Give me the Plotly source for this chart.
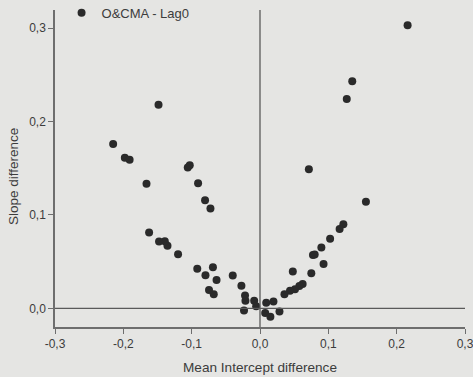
import plotly.graph_objects as go

# Mean intercept difference vs slope difference, O&CMA - Lag0
mean_intercept_diff = [
    0.216, 0.135, 0.127, 0.0715, 0.155, 0.122, 0.1165, 0.1026, 0.0898, 0.0775,
    0.080, 0.093, 0.0751, 0.048, 0.0624, 0.0576, 0.0512, 0.0439, 0.0358, 0.0091,
    0.0197, -0.0085, -0.0056, -0.0234, 0.0076, 0.0152, 0.0285, -0.0213, -0.0219, -0.0272,
    -0.0399, -0.0677, -0.0746, -0.0636, -0.0689, -0.0798, -0.0918, -0.1199, -0.1354, -0.1393,
    -0.1477, -0.1623, -0.0725, -0.0804, -0.0906, -0.1661, -0.1057, -0.1028, -0.1978, -0.1908,
    -0.2149, -0.1485,
]
slope_diff = [
    0.303, 0.243, 0.224, 0.149, 0.114, 0.090, 0.085, 0.0745, 0.065, 0.057,
    0.0575, 0.0474, 0.0376, 0.0394, 0.026, 0.0239, 0.0203, 0.0188, 0.0151, 0.006,
    0.0073, 0.008, 0.0021, -0.0024, -0.005, -0.009, -0.0034, 0.0081, 0.0137, 0.0241,
    0.0351, 0.015, 0.0196, 0.0303, 0.044, 0.0354, 0.0423, 0.0578, 0.067, 0.0718,
    0.0715, 0.0812, 0.107, 0.1156, 0.1338, 0.1334, 0.1507, 0.1531, 0.1611, 0.159,
    0.1759, 0.218,
]

x_tick_vals = [-0.3, -0.2, -0.1, 0.0, 0.1, 0.2, 0.3]
x_tick_text = ["-0,3", "-0,2", "-0,1", "0,0", "0,1", "0,2", "0,3"]
y_tick_vals = [0.0, 0.1, 0.2, 0.3]
y_tick_text = ["0,0", "0,1", "0,2", "0,3"]

paper_bg = "#e5e5e3"
ink = "#3c3c3c"
axis_grey = "#6e6e6e"
font_family = "Liberation Sans, Arial, sans-serif"

fig = go.Figure()
fig.add_trace(go.Scatter(
    x=mean_intercept_diff,
    y=slope_diff,
    mode="markers",
    name="O&CMA - Lag0",
    marker=dict(size=8, color="#2a2a2a"),
))

# reference lines at zero on both axes
fig.add_shape(type="line", xref="x", yref="paper", x0=0, x1=0, y0=0, y1=1,
              line=dict(color="#5a5a5a", width=1.3))
fig.add_shape(type="line", xref="paper", yref="y", x0=0, x1=1, y0=0, y1=0,
              line=dict(color="#5a5a5a", width=1.3))

fig.add_annotation(
    text="Slope difference", xref="paper", yref="paper",
    x=-0.101, y=0.475, xanchor="center", yanchor="middle",
    textangle=-90, showarrow=False,
    font=dict(size=13.5, color=ink, family=font_family),
)

fig.update_layout(
    width=473, height=377,
    margin=dict(l=55, r=8, t=10, b=50, autoexpand=False),
    paper_bgcolor=paper_bg,
    plot_bgcolor=paper_bg,
    font=dict(family=font_family, color=ink, size=12),
    showlegend=True,
    legend=dict(
        x=0.016, y=0.9915, xanchor="left", yanchor="middle",
        bgcolor="rgba(0,0,0,0)",
        font=dict(size=13, color=ink, family=font_family),
    ),
    xaxis=dict(
        range=[-0.3, 0.3], automargin=False, ticklabeloverflow="allow",
        tickvals=x_tick_vals, ticktext=x_tick_text,
        showgrid=False, zeroline=False,
        showline=True, linecolor=axis_grey, linewidth=1.5,
        ticks="outside", ticklen=5, tickcolor=axis_grey, tickwidth=1.2,
        title=dict(text="Mean Intercept difference", standoff=12,
                   font=dict(size=13.6, color=ink)),
    ),
    yaxis=dict(
        range=[-0.02, 0.3194], automargin=False,
        tickvals=y_tick_vals, ticktext=y_tick_text,
        showgrid=False, zeroline=False,
        showline=True, linecolor=axis_grey, linewidth=1.5,
        ticks="outside", ticklen=5, tickcolor=axis_grey, tickwidth=1.2,
    ),
)

fig.write_html("out.html")
